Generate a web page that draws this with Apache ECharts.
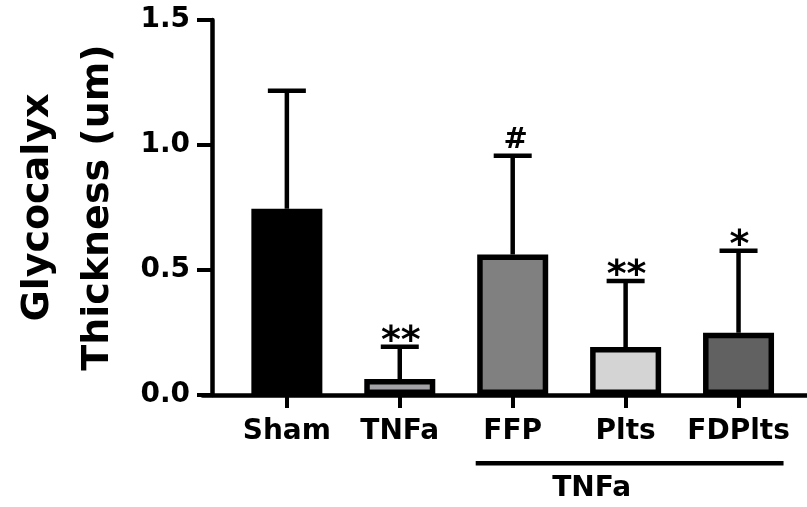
<!DOCTYPE html>
<html>
<head>
<meta charset="utf-8">
<script src="https://cdn.jsdelivr.net/npm/echarts@6/dist/echarts.min.js"></script>
<style>
html,body{margin:0;padding:0;background:#fff;}
#chart{width:807px;height:507px;}
</style>
</head>
<body>
<div id="chart"></div>
<script>
// ---- data ----
const categories = ['Sham', 'TNFa', 'FFP', 'Plts', 'FDPlts'];
const means = [0.745, 0.064, 0.562, 0.192, 0.249];
const sdUpper = [0.472, 0.129, 0.395, 0.264, 0.328];
const sigMarks = ['', '**', '#', '**', '*'];
const yTickValues = [0.0, 0.5, 1.0, 1.5];
const groupLabel = 'TNFa';
const groupFrom = 'FFP';
const groupTo = 'FDPlts';
const yAxisTitle = 'Glycocalyx\nThickness (um)';

// ---- styles ----
const barColors = ['#000000', '#a3a3a7', '#808080', '#d4d4d4', '#616161'];
const FONT = '"DejaVu Sans", "Liberation Sans", Arial, sans-serif';

const chart = echarts.init(document.getElementById('chart'), null, {renderer: 'canvas'});

const axisTop = 20, axisBottomPx = 395;
const gridBottom = 507 - axisBottomPx;

const option = {
  animation: false,
  backgroundColor: '#ffffff',
  grid: [
    {left: 221, right: 12, top: axisTop, bottom: gridBottom, containLabel: false},
    {left: 202.6, right: 0, top: axisTop, bottom: gridBottom, containLabel: false}
  ],
  xAxis: [
    {
      type: 'category', gridIndex: 0, data: categories,
      axisLine: {show: false},
      axisTick: {show: true, alignWithLabel: true, length: 13, lineStyle: {color: '#000', width: 4}},
      axisLabel: {show: true, interval: 0, hideOverlap: false, margin: 23, color: '#000', fontFamily: FONT, fontWeight: 'bold', fontSize: 28},
      splitLine: {show: false}
    },
    {
      type: 'value', gridIndex: 1, min: 0, max: 1,
      axisLine: {show: true, onZero: false, lineStyle: {color: '#000', width: 4.5}},
      axisTick: {show: false}, axisLabel: {show: false}, splitLine: {show: false}
    }
  ],
  yAxis: [
    {
      type: 'value', gridIndex: 0, min: 0, max: 1.5, interval: 0.5, offset: 18.4,
      axisLine: {show: true, lineStyle: {color: '#000', width: 4.5}},
      axisTick: {show: true, length: 15, lineStyle: {color: '#000', width: 4}},
      axisLabel: {
        show: true, margin: 22, color: '#000', fontFamily: FONT, fontWeight: 'bold', fontSize: 28,
        formatter: function (v) { return yTickValues.indexOf(v) >= 0 ? v.toFixed(1) : ''; }
      },
      splitLine: {show: false},
      name: yAxisTitle, nameLocation: 'middle', nameRotate: 90, nameGap: 84,
      nameTextStyle: {color: '#000', fontFamily: FONT, fontWeight: 'bold', fontSize: 38, lineHeight: 60}
    },
    {type: 'value', gridIndex: 1, show: false, min: 0, max: 1}
  ],
  series: [
    {
      type: 'bar', xAxisIndex: 0, yAxisIndex: 0, barWidth: 71, z: 2,
      data: means.map(function (v, i) {
        return {value: v, itemStyle: {color: barColors[i], borderColor: '#000', borderWidth: 5.5}};
      })
    },
    {
      type: 'custom', xAxisIndex: 0, yAxisIndex: 0, z: 3, clip: false,
      data: means.map(function (m, i) { return [i, m, m + sdUpper[i]]; }),
      renderItem: function (params, api) {
        const i = api.value(0);
        const base = api.coord([i, api.value(1)]);
        const top = api.coord([i, api.value(2)]);
        const half = 19;
        const children = [
          {type: 'line', shape: {x1: base[0], y1: base[1], x2: top[0], y2: top[1]}, style: {stroke: '#000', lineWidth: 4.5}},
          {type: 'line', shape: {x1: top[0] - half, y1: top[1], x2: top[0] + half, y2: top[1]}, style: {stroke: '#000', lineWidth: 4.5}}
        ];
        const mark = sigMarks[i];
        if (mark) {
          const isStar = mark.indexOf('*') >= 0;
          const size = isStar ? 38 : 29;
          children.push({
            type: 'text',
            style: {
              text: mark, x: top[0] + (isStar ? 1 : 3), y: top[1] + (isStar ? 14 : -1),
              font: 'bold ' + size + 'px ' + FONT, fill: '#000',
              align: 'center', verticalAlign: 'bottom', textAlign: 'center', textVerticalAlign: 'bottom'
            }
          });
        }
        return {type: 'group', children: children};
      }
    },
    {
      type: 'custom', xAxisIndex: 0, yAxisIndex: 0, z: 3, clip: false,
      data: [[categories.indexOf(groupFrom), categories.indexOf(groupTo), 0]],
      renderItem: function (params, api) {
        const a = api.coord([api.value(0), api.value(2)]);
        const b = api.coord([api.value(1), api.value(2)]);
        const x1 = a[0] - 37, x2 = b[0] + 45;
        const ly = a[1] + 68.3;
        return {
          type: 'group',
          children: [
            {type: 'line', shape: {x1: x1, y1: ly, x2: x2, y2: ly}, style: {stroke: '#000', lineWidth: 4.5}},
            {type: 'text', style: {
              text: groupLabel, x: (x1 + x2) / 2 - 38, y: a[1] + 80,
              font: 'bold 28px ' + FONT, fill: '#000',
              align: 'center', verticalAlign: 'top', textAlign: 'center', textVerticalAlign: 'top'
            }}
          ]
        };
      }
    }
  ]
};
chart.setOption(option);
</script>
</body>
</html>
